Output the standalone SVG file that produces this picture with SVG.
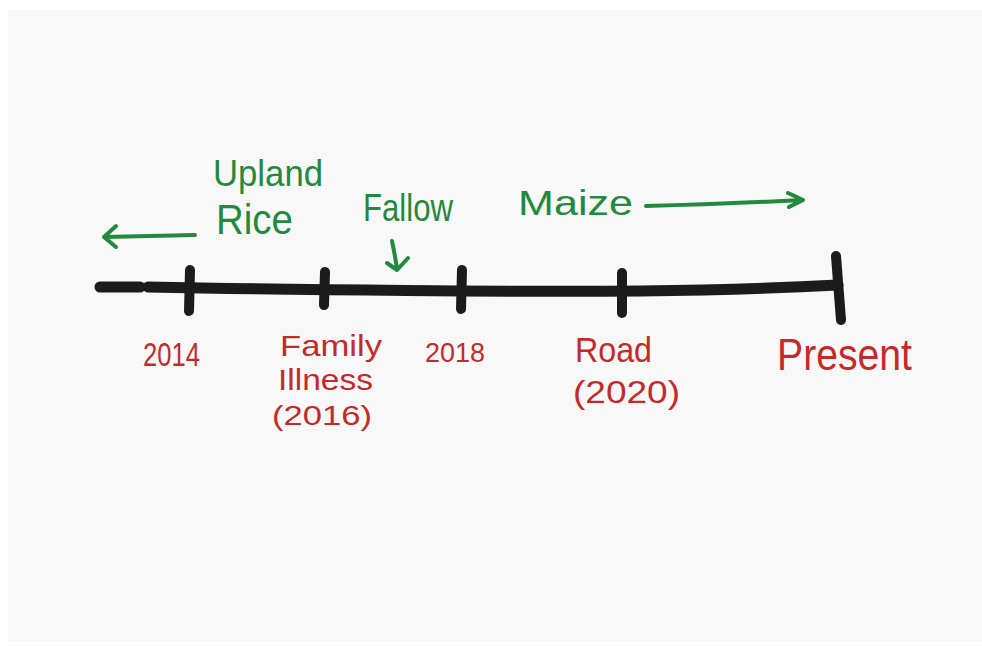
<svg xmlns="http://www.w3.org/2000/svg" width="982" height="646" viewBox="0 0 982 646">
  <defs>
    <style>
      .bg { fill: #f8f8f8; }
      .axis { fill: none; stroke: #1b1b1b; stroke-width: 11; stroke-linecap: round; stroke-linejoin: round; }
      .tick { fill: none; stroke: #1b1b1b; stroke-width: 10; stroke-linecap: round; }
      .garrow { fill: none; stroke: #23893f; stroke-width: 4; stroke-linecap: round; stroke-linejoin: round; }
      .green { fill: #23893f; font-family: "Liberation Sans", "Open Sans", sans-serif; }
      .red { fill: #c42a2c; font-family: "Liberation Sans", "Open Sans", sans-serif; }
    </style>
  </defs>
  <rect x="0" y="0" width="982" height="646" fill="#ffffff"/>
  <rect class="bg" x="8" y="10" width="974" height="632"/>

  <g id="timeline-axis">
    <path class="axis" d="M100,287 L140,287 M148,287 C300,290 520,292 640,291 C720,290 780,288 838,285"/>
  </g>

  <g id="tick-2014">
    <line class="tick" x1="190" y1="270" x2="189" y2="311"/>
    <text class="red" x="143" y="366" font-size="33" textLength="57" lengthAdjust="spacingAndGlyphs">2014</text>
  </g>
  <g id="tick-2016">
    <line class="tick" x1="325" y1="272" x2="324" y2="305"/>
    <text class="red" x="280" y="356" font-size="30" textLength="102" lengthAdjust="spacingAndGlyphs">Family</text>
    <text class="red" x="278" y="390" font-size="30" textLength="95" lengthAdjust="spacingAndGlyphs">Illness</text>
    <text class="red" x="272" y="425" font-size="28" textLength="100" lengthAdjust="spacingAndGlyphs">(2016)</text>
  </g>
  <g id="tick-2018">
    <line class="tick" x1="462" y1="270" x2="461" y2="309"/>
    <text class="red" x="425" y="362" font-size="27" textLength="60" lengthAdjust="spacingAndGlyphs">2018</text>
  </g>
  <g id="tick-2020">
    <line class="tick" x1="622" y1="273" x2="622" y2="313"/>
    <text class="red" x="575" y="362" font-size="35" textLength="77" lengthAdjust="spacingAndGlyphs">Road</text>
    <text class="red" x="573" y="403" font-size="31" textLength="107" lengthAdjust="spacingAndGlyphs">(2020)</text>
  </g>
  <g id="tick-present">
    <line class="tick" x1="836" y1="256" x2="841" y2="320"/>
    <text class="red" x="777" y="370" font-size="45" textLength="135" lengthAdjust="spacingAndGlyphs">Present</text>
  </g>

  <g id="upland-rice">
    <text class="green" x="213" y="186" font-size="37" textLength="110" lengthAdjust="spacingAndGlyphs">Upland</text>
    <text class="green" x="216" y="234" font-size="42" textLength="77" lengthAdjust="spacingAndGlyphs">Rice</text>
  </g>
  <g id="fallow">
    <text class="green" x="363" y="221" font-size="38" textLength="90" lengthAdjust="spacingAndGlyphs">Fallow</text>
  </g>
  <g id="maize">
    <text class="green" x="518" y="215" font-size="35" textLength="115" lengthAdjust="spacingAndGlyphs">Maize</text>
  </g>

  <g id="connectors">
    <path class="garrow" d="M195,235 L104,237 M116,226 L104,237 L116,247"/>
    <path class="garrow" d="M392,241 Q395,255 397,269 M387,263 L397,270 L408,258"/>
    <path class="garrow" d="M646,206 Q720,204 803,200 M788,193 L803,200 L789,207"/>
  </g>
</svg>
